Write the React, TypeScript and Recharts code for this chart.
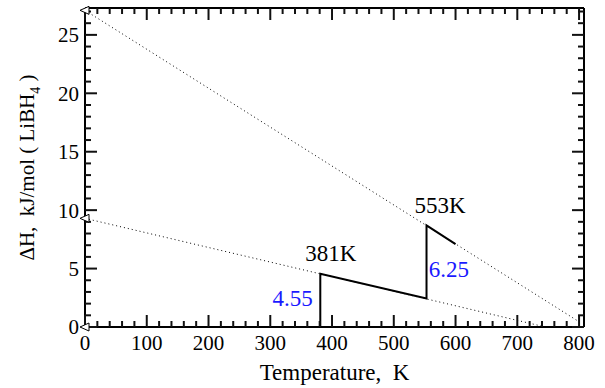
import React from "react";
import { ComposedChart, Line, Scatter, XAxis, YAxis, ReferenceLine } from "recharts";

// Data
const upperDotted = [
  { x: 0, y: 27.1 },
  { x: 800, y: 0.45 },
];
const lowerDotted = [
  { x: 0, y: 9.3 },
  { x: 740, y: 0.07 },
];
const stepLine = [
  { x: 381, y: 0 },
  { x: 381, y: 4.55 },
  { x: 553, y: 2.45 },
  { x: 553, y: 8.7 },
  { x: 600, y: 7.1 },
];
const markers = [
  { x: 0, y: 27.1 },
  { x: 0, y: 9.3 },
  { x: 0, y: 0 },
];
const annotations = [
  { x: 575, y: 10.45, text: "553K", color: "#000" },
  { x: 398, y: 6.35, text: "381K", color: "#000" },
  { x: 589, y: 5.0, text: "6.25", color: "#1a1aff" },
  { x: 336, y: 2.5, text: "4.55", color: "#1a1aff" },
];
const xTicks: number[] = [];
for (let v = 0; v <= 800; v += 20) xTicks.push(v);
const yTicks: number[] = [];
for (let v = 0; v <= 27; v += 1) yTicks.push(v);
const X_MAX = 808;
const Y_MAX = 27.3;

const xTickMarks = xTicks.map((v) => ({ x: v, y: 0, major: v % 100 === 0 }));
const yTickMarks = yTicks.map((v) => ({ x: 0, y: v, major: v % 5 === 0 }));

const FONT = "Liberation Serif";
const W = 605;
const H = 388;
const M = { top: 8, right: 21, bottom: 61, left: 85 };
const PLOT_W = W - M.right - M.left;
const PLOT_H = H - M.top - M.bottom;

const XTickShape = (p: any) => {
  const { cx, cy, payload } = p;
  const major = payload.major;
  const top = cy - PLOT_H;
  return (
    <g>
      <line x1={cx} x2={cx} y1={cy} y2={cy - (major ? 12 : 6)} stroke="#111" strokeWidth={2} />
      <line x1={cx} x2={cx} y1={top} y2={top + (major ? 12 : 6)} stroke="#111" strokeWidth={2} />
      {major && (
        <text x={cx} y={cy + 23} textAnchor="middle" fontSize={21} fontFamily={FONT} fill="#000">
          {payload.x}
        </text>
      )}
    </g>
  );
};
const YTickShape = (p: any) => {
  const { cx, cy, payload } = p;
  const major = payload.major;
  const right = cx + PLOT_W;
  const l = major ? 12 : 6;
  return (
    <g>
      <line x1={cx} x2={cx + l} y1={cy} y2={cy} stroke="#111" strokeWidth={2} />
      <line x1={right} x2={right - l} y1={cy} y2={cy} stroke="#111" strokeWidth={2} />
      {major && (
        <text x={cx - 6} y={cy} dy="0.35em" textAnchor="end" fontSize={21} fontFamily={FONT} fill="#000">
          {payload.y}
        </text>
      )}
    </g>
  );
};

const Triangle = (p: any) => {
  const { cx, cy } = p;
  return (
    <polygon
      points={`${cx - 5},${cy} ${cx + 4},${cy - 4} ${cx + 4},${cy + 4}`}
      fill="#fff"
      stroke="#000"
      strokeWidth={1}
    />
  );
};

const AnnText = (p: any) => {
  const { cx, cy, payload } = p;
  return (
    <text x={cx} y={cy} dy="0.35em" textAnchor="middle" fontSize={23} fontFamily={FONT} fill={payload.color}>
      {payload.text}
    </text>
  );
};

export default function App() {
  const plotCx = M.left + PLOT_W / 2;
  const plotCy = M.top + PLOT_H / 2;
  return (
    <div style={{ position: "absolute", left: 0, top: 0, width: W, height: H, background: "#fff" }}>
      <ComposedChart width={W} height={H} margin={M}>
        <XAxis dataKey="x" type="number" domain={[0, X_MAX]} hide />
        <YAxis dataKey="y" type="number" domain={[0, Y_MAX]} hide />
        <ReferenceLine y={0} stroke="#000" strokeWidth={2} />
        <ReferenceLine y={Y_MAX} stroke="#000" strokeWidth={2} />
        <ReferenceLine x={0} stroke="#000" strokeWidth={2} />
        <ReferenceLine x={X_MAX} stroke="#000" strokeWidth={2} />
        <Scatter data={xTickMarks} dataKey="y" shape={XTickShape} isAnimationActive={false} />
        <Scatter data={yTickMarks} dataKey="y" shape={YTickShape} isAnimationActive={false} />
        <Line
          data={upperDotted}
          dataKey="y"
          stroke="#000"
          strokeWidth={1}
          strokeDasharray="1 3"
          dot={false}
          isAnimationActive={false}
        />
        <Line
          data={lowerDotted}
          dataKey="y"
          stroke="#000"
          strokeWidth={1}
          strokeDasharray="1 3"
          dot={false}
          isAnimationActive={false}
        />
        <Line
          data={stepLine}
          dataKey="y"
          stroke="#000"
          strokeWidth={2}
          dot={false}
          isAnimationActive={false}
        />
        <Scatter data={markers} dataKey="y" shape={Triangle} isAnimationActive={false} />
        <Scatter data={annotations} dataKey="y" shape={AnnText} isAnimationActive={false} />
      </ComposedChart>
      <svg
        width={W}
        height={H}
        style={{ position: "absolute", left: 0, top: 0, pointerEvents: "none" }}
      >
        <text
          x={plotCx}
          y={M.top + PLOT_H + 53}
          textAnchor="middle"
          fontSize={23}
          fontFamily={FONT}
          fill="#000"
          style={{ whiteSpace: "pre" }}
        >
          {"Temperature,  K"}
        </text>
        <text
          x={27}
          y={plotCy}
          transform={`rotate(-90 27 ${plotCy})`}
          textAnchor="middle"
          dy="0.35em"
          fontSize={21}
          fontFamily={FONT}
          fill="#000"
          style={{ whiteSpace: "pre" }}
        >
          {"ΔH,  kJ/mol ( LiBH"}
          <tspan fontSize={14} dy="6">4</tspan>
          <tspan dy="-6">{" )"}</tspan>
        </text>
      </svg>
    </div>
  );
}
